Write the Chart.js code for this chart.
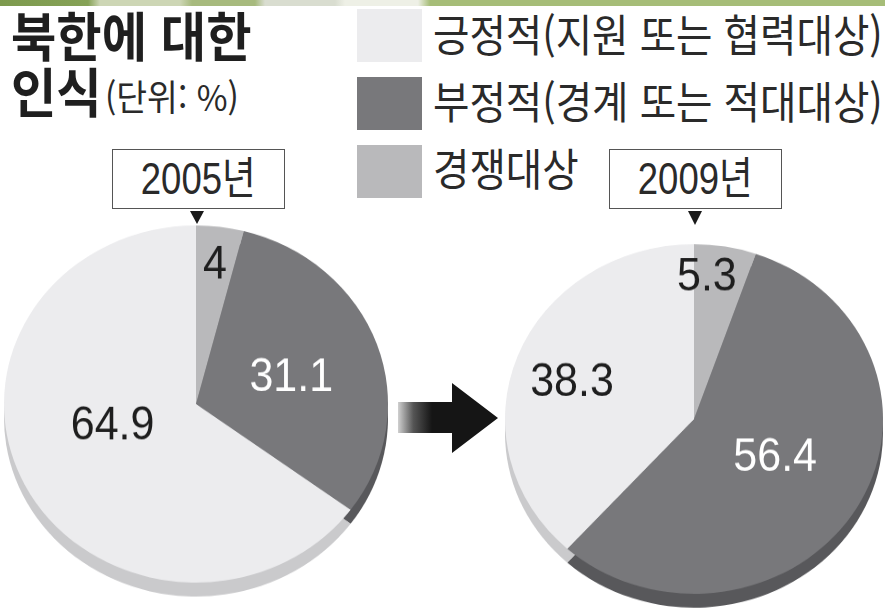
<!DOCTYPE html>
<html lang="ko">
<head>
<meta charset="utf-8">
<script src="https://cdn.jsdelivr.net/npm/chart.js@4.4.1/dist/chart.umd.min.js"></script>
<style>
  html, body { margin: 0; padding: 0; }
  body { width: 885px; height: 614px; overflow: hidden; position: relative; background: #ffffff;
         font-family: "Noto Sans CJK KR", "Noto Sans", sans-serif; color: #222; }
  .abs { position: absolute; white-space: nowrap; line-height: 1; }
  .strip { left: 0; top: 0; width: 885px; height: 6px;
    background: linear-gradient(to right, #7d9a4e 0px, #86a257 88px, #cdd6b5 100px, #cdd6b5 180px, #a7ba7e 192px, #a7ba7e 255px, #d9ddd0 265px, #d9ddd0 335px, #eef0e6 345px, #eef0e6 418px, #a6bd78 430px, #a6bd78 885px); }
  .title { font-weight: 700; font-size: 53px; transform: scaleX(0.93); transform-origin: 0 0; color: #1f1f1f; }
  .unit { font-weight: 400; font-size: 36px; transform: scaleX(0.93); transform-origin: 0 0; color: #2a2a2a; }
  .legbox { width: 65px; height: 53px; }
  .legtxt { font-size: 44px; transform: scaleX(0.9); transform-origin: 0 0; color: #2a2a2a; }
  .yearbox { border: 1.5px solid #555; background: #fff; box-sizing: border-box; height: 60px;
    display: flex; align-items: center; justify-content: center; z-index: 3; }
  .yearbox span { font-family: "Liberation Sans", "Noto Sans CJK KR", sans-serif; font-size: 44px;
    display: inline-block; transform: scaleX(0.83); color: #2a2a2a; }
  .pie { width: 420px; height: 420px; transform-origin: 210px 210px; z-index: 1; }
  svg.overlay { position: absolute; left: 0; top: 0; z-index: 4; }
</style>
</head>
<body>
<div class="abs strip"></div>
<div class="abs title" style="left:11px; top:8px;">북한에 대한</div>
<div class="abs title" style="left:11px; top:64px;">인식</div>
<div class="abs unit" style="left:105px; top:77px;">(단위: %)</div>
<div id="legend"></div>
<div class="abs yearbox" id="yb0" style="left:112px; top:149px; width:173px;"><span></span></div>
<div class="abs yearbox" id="yb1" style="left:609px; top:149px; width:173px;"><span></span></div>
<div class="abs pie" id="wrap0" style="left:-14px; top:194px; transform: scaleY(0.93);"><canvas id="c0" width="420" height="420"></canvas></div>
<div class="abs pie" id="wrap1" style="left:484px; top:209px; transform: scaleY(0.925);"><canvas id="c1" width="420" height="420"></canvas></div>
<svg class="overlay" width="885" height="614" viewBox="0 0 885 614">
  <defs>
    <linearGradient id="shaft" gradientUnits="userSpaceOnUse" x1="398" y1="0" x2="432" y2="0">
      <stop offset="0" stop-color="#d0d0d0"/>
      <stop offset="0.45" stop-color="#555"/>
      <stop offset="1" stop-color="#151515"/>
    </linearGradient>
  </defs>
  <polygon points="398,402 452,402 452,383 498,418 452,453 452,433 398,433" fill="url(#shaft)"/>
  <polygon points="190,211 204,211 197,224" fill="#1a1a1a"/>
  <polygon points="688,211 702,211 695,225" fill="#1a1a1a"/>
</svg>
<script>
// ---- data ----
const categories = ['경쟁대상', '부정적(경계 또는 적대대상)', '긍정적(지원 또는 협력대상)'];
const years = ['2005년', '2009년'];
const values2005 = [4, 31.1, 64.9];
const values2009 = [5.3, 56.4, 38.3];
const legendOrder = [2, 1, 0];

// ---- styles ----
const sliceColors = ['#b9b9bb', '#78787b', '#ececee'];
const rimColors = ['#9d9d9f', '#58585b', '#cacacc'];
const labelColors = ['#1e1e1e', '#ffffff', '#1e1e1e'];

// legend
const legend = document.getElementById('legend');
const legTops = [9, 77, 145];
const legTxtTops = [11, 78, 145];
legendOrder.forEach((ci, k) => {
  const b = document.createElement('div');
  b.className = 'abs legbox';
  b.style.left = '357px'; b.style.top = legTops[k] + 'px';
  b.style.background = sliceColors[ci];
  legend.appendChild(b);
  const t = document.createElement('div');
  t.className = 'abs legtxt';
  t.style.left = '433px'; t.style.top = legTxtTops[k] + 'px';
  t.textContent = categories[ci];
  legend.appendChild(t);
});
document.querySelector('#yb0 span').textContent = years[0];
document.querySelector('#yb1 span').textContent = years[1];

const rim3d = {
  id: 'rim3d',
  beforeDatasetsDraw(chart, args, opts) {
    const ctx = chart.ctx;
    const meta = chart.getDatasetMeta(0);
    ctx.save();
    meta.data.forEach((el, i) => {
      ctx.beginPath();
      ctx.moveTo(el.x, el.y + opts.offset);
      ctx.arc(el.x, el.y + opts.offset, el.outerRadius, el.startAngle, el.endAngle);
      ctx.closePath();
      ctx.fillStyle = rimColors[i];
      ctx.fill();
    });
    ctx.restore();
  }
};

const sliceLabels = {
  id: 'sliceLabels',
  afterDatasetsDraw(chart, args, opts) {
    const ctx = chart.ctx;
    const meta = chart.getDatasetMeta(0);
    const vals = chart.data.datasets[0].data;
    meta.data.forEach((el, i) => {
      const a = el.startAngle + (el.endAngle - el.startAngle) * opts.angFrac[i];
      const r = el.outerRadius * opts.radFrac[i];
      const x = el.x + Math.cos(a) * r;
      const y = el.y + Math.sin(a) * r;
      ctx.save();
      ctx.translate(x, y);
      ctx.scale(0.86, 1);
      ctx.font = '50px "Liberation Sans", Arial, sans-serif';
      ctx.textAlign = 'center';
      ctx.textBaseline = 'middle';
      ctx.fillStyle = labelColors[i];
      ctx.fillText(String(vals[i]), 0, 2);
      ctx.restore();
    });
  }
};

function makePie(id, values, pad, rimOff, angFrac, radFrac) {
  return new Chart(document.getElementById(id), {
    type: 'pie',
    data: {
      labels: categories,
      datasets: [{ data: values, backgroundColor: sliceColors, borderWidth: 0 }]
    },
    options: {
      responsive: false,
      animation: false,
      events: [],
      layout: { padding: pad },
      plugins: {
        legend: { display: false },
        tooltip: { enabled: false },
        rim3d: { offset: rimOff },
        sliceLabels: { angFrac: angFrac, radFrac: radFrac }
      }
    },
    plugins: [rim3d, sliceLabels]
  });
}

makePie('c0', values2005, 18, 15, [0.5, 0.52, 0.55], [0.79, 0.52, 0.45]);
makePie('c1', values2009, 21, 15, [0.25, 0.48, 0.48], [0.82, 0.48, 0.68]);
</script>
</body>
</html>
